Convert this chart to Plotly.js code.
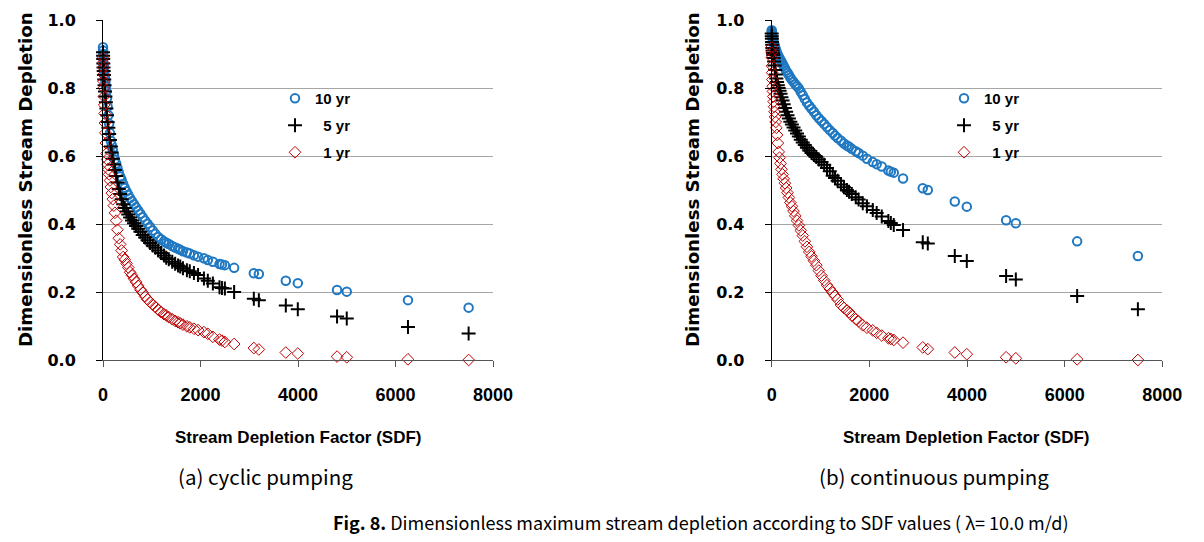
<!DOCTYPE html>
<html>
<head>
<meta charset="utf-8">
<script src="https://cdn.plot.ly/plotly-3.0.1.min.js"></script>
<style>
html,body{margin:0;padding:0;background:#fff;}
#chart{width:1204px;height:542px;}
</style>
</head>
<body>
<div id="chart"></div>
<script>
// Stream Depletion Factor values (shared by both panels)
const sdf = [0, 2, 4, 7, 10, 14, 19, 25, 32, 40, 49, 59, 70, 82, 95, 110, 126, 143, 161, 180,
  200, 222, 245, 270, 296, 323, 352, 382, 414, 447, 482, 518, 556, 595, 636, 678, 722, 768, 815, 864,
  914, 966, 1020, 1075, 1132, 1190, 1250, 1297, 1350, 1420, 1480, 1540, 1584, 1640, 1721, 1780, 1865, 1950, 2070, 2150,
  2254, 2390, 2440, 2500, 2690, 3094, 3197, 3750, 3996, 4801, 5000, 6256, 7500];

// (a) cyclic pumping
const cyc10 = [0.92, 0.91, 0.90, 0.885, 0.87, 0.865, 0.857, 0.85, 0.84, 0.83, 0.818, 0.805, 0.79, 0.77, 0.745, 0.72, 0.695, 0.668, 0.645, 0.632,
  0.618, 0.602, 0.59, 0.578, 0.565, 0.552, 0.54, 0.53, 0.518, 0.506, 0.496, 0.486, 0.476, 0.467, 0.458, 0.449, 0.44, 0.43, 0.42, 0.41,
  0.401, 0.391, 0.381, 0.371, 0.362, 0.355, 0.349, 0.345, 0.341, 0.335, 0.331, 0.327, 0.324, 0.32, 0.316, 0.313, 0.308, 0.304, 0.299, 0.294,
  0.289, 0.282, 0.281, 0.279, 0.271, 0.255, 0.253, 0.233, 0.226, 0.206, 0.201, 0.176, 0.154];
const cyc5 = [0.905, 0.895, 0.885, 0.872, 0.86, 0.85, 0.838, 0.825, 0.808, 0.79, 0.775, 0.758, 0.74, 0.72, 0.70, 0.683, 0.665, 0.647, 0.628, 0.61,
  0.592, 0.575, 0.559, 0.541, 0.522, 0.503, 0.488, 0.473, 0.458, 0.447, 0.437, 0.428, 0.419, 0.41, 0.402, 0.394, 0.386, 0.377, 0.368, 0.36,
  0.352, 0.344, 0.337, 0.33, 0.322, 0.315, 0.307, 0.301, 0.296, 0.289, 0.283, 0.278, 0.275, 0.27, 0.264, 0.261, 0.256, 0.25, 0.24, 0.233,
  0.225, 0.214, 0.212, 0.21, 0.20, 0.18, 0.176, 0.16, 0.149, 0.128, 0.122, 0.097, 0.078];
const cyc1 = [0.89, 0.875, 0.86, 0.84, 0.82, 0.80, 0.775, 0.75, 0.725, 0.697, 0.668, 0.638, 0.607, 0.59, 0.575, 0.561, 0.546, 0.528, 0.509, 0.491,
  0.473, 0.454, 0.433, 0.41, 0.383, 0.358, 0.34, 0.322, 0.303, 0.295, 0.284, 0.272, 0.258, 0.249, 0.239, 0.229, 0.218, 0.207, 0.198, 0.187,
  0.178, 0.17, 0.163, 0.156, 0.148, 0.141, 0.135, 0.131, 0.126, 0.12, 0.115, 0.111, 0.108, 0.104, 0.099, 0.096, 0.092, 0.088, 0.082, 0.077,
  0.068, 0.06, 0.057, 0.053, 0.047, 0.035, 0.031, 0.022, 0.019, 0.01, 0.008, 0.002, 0.0];

// (b) continuous pumping
const con10 = [0.97, 0.966, 0.962, 0.958, 0.955, 0.951, 0.946, 0.942, 0.938, 0.934, 0.93, 0.925, 0.92, 0.914, 0.908, 0.902, 0.897, 0.892, 0.887, 0.882,
  0.877, 0.871, 0.865, 0.858, 0.851, 0.845, 0.838, 0.831, 0.824, 0.818, 0.811, 0.805, 0.799, 0.789, 0.779, 0.768, 0.757, 0.748, 0.739, 0.73,
  0.72, 0.711, 0.703, 0.694, 0.685, 0.676, 0.668, 0.66, 0.653, 0.645, 0.637, 0.631, 0.627, 0.621, 0.614, 0.609, 0.601, 0.592, 0.582, 0.576,
  0.569, 0.557, 0.554, 0.551, 0.534, 0.505, 0.50, 0.466, 0.451, 0.411, 0.402, 0.349, 0.306];
const con5 = [0.96, 0.952, 0.945, 0.935, 0.927, 0.918, 0.91, 0.903, 0.897, 0.888, 0.878, 0.866, 0.853, 0.84, 0.828, 0.818, 0.808, 0.80, 0.792, 0.783,
  0.773, 0.763, 0.752, 0.741, 0.73, 0.72, 0.71, 0.701, 0.693, 0.684, 0.675, 0.666, 0.657, 0.648, 0.64, 0.632, 0.624, 0.616, 0.609, 0.603,
  0.597, 0.59, 0.582, 0.574, 0.565, 0.555, 0.542, 0.535, 0.527, 0.516, 0.508, 0.50, 0.495, 0.488, 0.479, 0.472, 0.461, 0.452, 0.441, 0.432,
  0.422, 0.409, 0.403, 0.397, 0.382, 0.346, 0.343, 0.306, 0.291, 0.247, 0.237, 0.188, 0.149];
const con1 = [0.92, 0.905, 0.89, 0.865, 0.845, 0.825, 0.805, 0.79, 0.775, 0.76, 0.745, 0.73, 0.715, 0.70, 0.683, 0.662, 0.638, 0.612, 0.595, 0.578,
  0.561, 0.546, 0.533, 0.52, 0.506, 0.492, 0.478, 0.463, 0.452, 0.438, 0.424, 0.41, 0.396, 0.381, 0.366, 0.349, 0.333, 0.318, 0.305, 0.292,
  0.279, 0.263, 0.248, 0.234, 0.22, 0.209, 0.198, 0.189, 0.178, 0.162, 0.153, 0.146, 0.141, 0.131, 0.12, 0.114, 0.102, 0.095, 0.087, 0.08,
  0.072, 0.064, 0.062, 0.059, 0.051, 0.037, 0.032, 0.022, 0.017, 0.008, 0.005, 0.002, 0.0];

const seriesNames = ['10 yr', '\u20075 yr', '\u20071 yr'];
const xTicks = [0, 2000, 4000, 6000, 8000];
const yTicks = [0.0, 0.2, 0.4, 0.6, 0.8, 1.0];

const BLUE = '#1f78c1', BLACK = '#000000', RED = '#c00000';
const styles = [
  {symbol: 'circle-open', size: 8.5, color: BLUE, line: {color: BLUE, width: 2}},
  {symbol: 'cross-thin-open', size: 10, color: BLACK, line: {color: BLACK, width: 2}},
  {symbol: 'diamond-open', size: 9, color: RED, line: {color: RED, width: 1}}
];

function mk(y, i, xa, ya, leg) {
  return {
    x: sdf, y: y, type: 'scatter', mode: 'markers', name: seriesNames[i],
    xaxis: xa, yaxis: ya, legend: leg, legendgroup: leg + i,
    marker: styles[i], cliponaxis: false
  };
}

const data = [
  mk(cyc10, 0, 'x', 'y', 'legend'), mk(cyc5, 1, 'x', 'y', 'legend'), mk(cyc1, 2, 'x', 'y', 'legend'),
  mk(con10, 0, 'x2', 'y2', 'legend2'), mk(con5, 1, 'x2', 'y2', 'legend2'), mk(con1, 2, 'x2', 'y2', 'legend2')
];

const W = 1204, H = 542;
const xTickFont = {family: 'Liberation Sans, Arial, sans-serif', size: 18, color: '#000', weight: 700};
const yTickFont = {family: 'DejaVu Sans, sans-serif', size: 16, color: '#000', weight: 700};
function xax(domain) {
  return {
    domain: domain, range: [0, 8000], tickvals: xTicks, ticktext: xTicks.map(String),
    showgrid: false, zeroline: false, showline: true, linecolor: '#555', linewidth: 1,
    ticks: 'outside', ticklen: 6, tickcolor: '#555', tickfont: xTickFont, ticklabelstandoff: 12,
    fixedrange: true
  };
}
function yax(anchor) {
  return {
    domain: [(H - 360) / H, (H - 20) / H], range: [0, 1], anchor: anchor,
    tickvals: yTicks, ticktext: yTicks.map(v => v.toFixed(1)),
    showgrid: true, gridcolor: '#a6a6a6', gridwidth: 1, zeroline: false,
    showline: true, linecolor: '#000', linewidth: 1,
    ticks: 'outside', ticklen: 6, tickcolor: '#000', tickfont: yTickFont, ticklabelstandoff: 17,
    fixedrange: true
  };
}
const legFont = {family: 'Liberation Sans, Arial, sans-serif', size: 15, color: '#000', weight: 700};
const capFont = {family: 'Noto Sans CJK KR, Noto Sans, sans-serif', size: 20.5, color: '#000'};
const figFont = {family: 'Noto Sans CJK KR, Noto Sans, sans-serif', size: 18, color: '#000'};
const xTitleFont = {family: 'Liberation Sans, Arial, sans-serif', size: 17, color: '#000', weight: 700};
const yTitleFont = {family: 'DejaVu Sans, sans-serif', size: 18.2, color: '#000', weight: 700};

function ann(text, px, py, font, angle) {
  return {text: text, xref: 'paper', yref: 'paper', x: px / W, y: (H - py) / H,
    xanchor: 'center', yanchor: 'middle', textangle: angle || 0, showarrow: false, font: font};
}

const layout = {
  width: W, height: H, margin: {l: 0, r: 0, t: 0, b: 0},
  paper_bgcolor: '#fff', plot_bgcolor: '#fff', showlegend: true,
  xaxis: xax([103 / W, 493 / W]), yaxis: yax('x'),
  xaxis2: xax([771.7 / W, 1162.3 / W]), yaxis2: yax('x2'),
  legend: {x: 275 / W, y: (H - 82) / H, xanchor: 'left', yanchor: 'top', bgcolor: 'rgba(0,0,0,0)',
    font: legFont, traceorder: 'grouped', tracegroupgap: 4.5},
  legend2: {x: 944 / W, y: (H - 82) / H, xanchor: 'left', yanchor: 'top', bgcolor: 'rgba(0,0,0,0)',
    font: legFont, traceorder: 'grouped', tracegroupgap: 4.5},
  annotations: [
    ann('Dimensionless Stream Depletion', 25, 180, yTitleFont, -90),
    ann('Dimensionless Stream Depletion', 692, 180, yTitleFont, -90),
    ann('Stream Depletion Factor (SDF)', 298, 438, xTitleFont),
    ann('Stream Depletion Factor (SDF)', 966, 438, xTitleFont),
    ann('(a) cyclic pumping', 265, 476, capFont),
    ann('(b) continuous pumping', 934, 476, capFont),
    ann('<b>Fig. 8.</b> Dimensionless maximum stream depletion according to SDF values ( \u03bb= 10.0 m/d)', 700, 522, figFont)
  ]
};

Plotly.newPlot('chart', data, layout, {staticPlot: true, displayModeBar: false});
</script>
</body>
</html>
